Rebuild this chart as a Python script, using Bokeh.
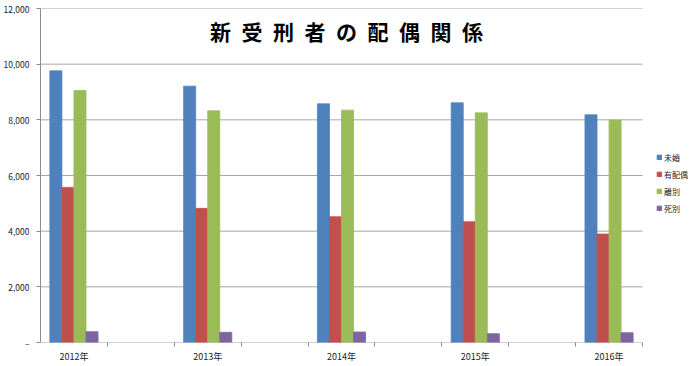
from bokeh.plotting import figure
from bokeh.models import (FixedTicker, NumeralTickFormatter, Legend, LegendItem,
                          Label, ColumnDataSource)
from bokeh.transform import dodge
from bokeh.embed import file_html
from bokeh.resources import INLINE

# ---- data ----
years = ["2012年", "2013年", "2014年", "2015年", "2016年"]
series_names = ["未婚", "有配偶", "離別", "死別"]
mikon = [9760, 9210, 8575, 8610, 8180]
haiguu = [5573, 4819, 4517, 4338, 3896]
ribetsu = [9056, 8323, 8348, 8251, 7990]
shibetsu = [388, 366, 377, 316, 352]
y_ticks = [0, 2000, 4000, 6000, 8000, 10000, 12000]
title_text = "新受刑者の配偶関係"

colors = ["#4F81BD", "#C0504D", "#9BBB59", "#8064A2"]

# category slots: each year followed by an empty slot
n_slots = 2 * len(years) - 1
positions = [2 * i + 0.5 for i in range(len(years))]

# the frame extends to the right to leave room for the legend
plot_px = 602
frame_px = 659
x_end = n_slots * frame_px / plot_px

src = ColumnDataSource(dict(x=positions, s0=mikon, s1=haiguu, s2=ribetsu, s3=shibetsu))
grid_src = ColumnDataSource(dict(y=y_ticks, x0=[0] * len(y_ticks), x1=[n_slots] * len(y_ticks)))

p = figure(frame_width=frame_px, frame_height=334, x_range=(0, x_end), y_range=(0, 12000),
           output_backend="svg", toolbar_location=None,
           min_border_left=39, min_border_right=0, min_border_top=8, min_border_bottom=20)
p.outline_line_color = None
p.background_fill_color = "white"
p.border_fill_color = "white"

# horizontal gridlines, only across the category area
p.segment(x0="x0", x1="x1", y0="y", y1="y", source=grid_src, line_color="#a6a6a6", line_width=1)

bw = 0.18
offsets = [-1.5 * bw, -0.5 * bw, 0.5 * bw, 1.5 * bw]
renderers = []
for k in range(4):
    r = p.vbar(x=dodge("x", offsets[k], range=p.x_range), top="s%d" % k, width=bw,
               source=src, fill_color=colors[k], line_color=colors[k], line_width=0.8)
    renderers.append(r)

# x axis
xa = p.xaxis[0]
xa.ticker = FixedTicker(ticks=positions, minor_ticks=list(range(1, n_slots + 1)))
xa.major_label_overrides = {pos: yr for pos, yr in zip(positions, years)}
xa.major_tick_out = 0
xa.major_tick_in = 0
xa.minor_tick_out = 4
xa.minor_tick_in = 0
xa.minor_tick_line_color = "#8c8c8c"
xa.axis_line_color = None
xa.major_label_text_font = "Noto Sans CJK JP"
xa.major_label_text_font_size = "9px"
xa.major_label_text_color = "#222222"
xa.major_label_standoff = 3
p.xgrid.visible = False
p.ygrid.visible = False

# y axis
ya = p.yaxis[0]
ya.ticker = FixedTicker(ticks=y_ticks, minor_ticks=[])
ya.formatter = NumeralTickFormatter(format="0,0")
ya.major_label_overrides = {0: "–"}
ya.major_tick_out = 4
ya.major_tick_in = 0
ya.minor_tick_out = 0
ya.minor_tick_in = 0
ya.major_tick_line_color = "#8c8c8c"
ya.axis_line_color = "#8c8c8c"
ya.major_label_text_font = "Noto Sans CJK JP"
ya.major_label_text_font_size = "8.5px"
ya.major_label_text_color = "#222222"
ya.major_label_standoff = 7

# legend, inside the widened frame to the right of the categories
legend = Legend(items=[LegendItem(label=series_names[k], renderers=[renderers[k]]) for k in range(4)],
                location=(616, 127), orientation="vertical")
legend.glyph_width = 6
legend.glyph_height = 6
legend.label_height = 14
legend.spacing = 3
legend.label_standoff = 2
legend.padding = 2
legend.margin = 0
legend.border_line_color = None
legend.background_fill_alpha = 0
legend.label_text_font = "Noto Sans CJK JP"
legend.label_text_font_size = "8px"
legend.label_text_color = "#222222"
p.add_layout(legend)

# title drawn inside the plot area
title = Label(x=4.575, y=11200, text="\u2002".join(title_text),
              text_font="Noto Sans CJK JP", text_font_style="bold", text_font_size="21px",
              text_align="center", text_baseline="middle", text_color="black")
p.add_layout(title)

open("out.html", "w").write(file_html(p, INLINE))
